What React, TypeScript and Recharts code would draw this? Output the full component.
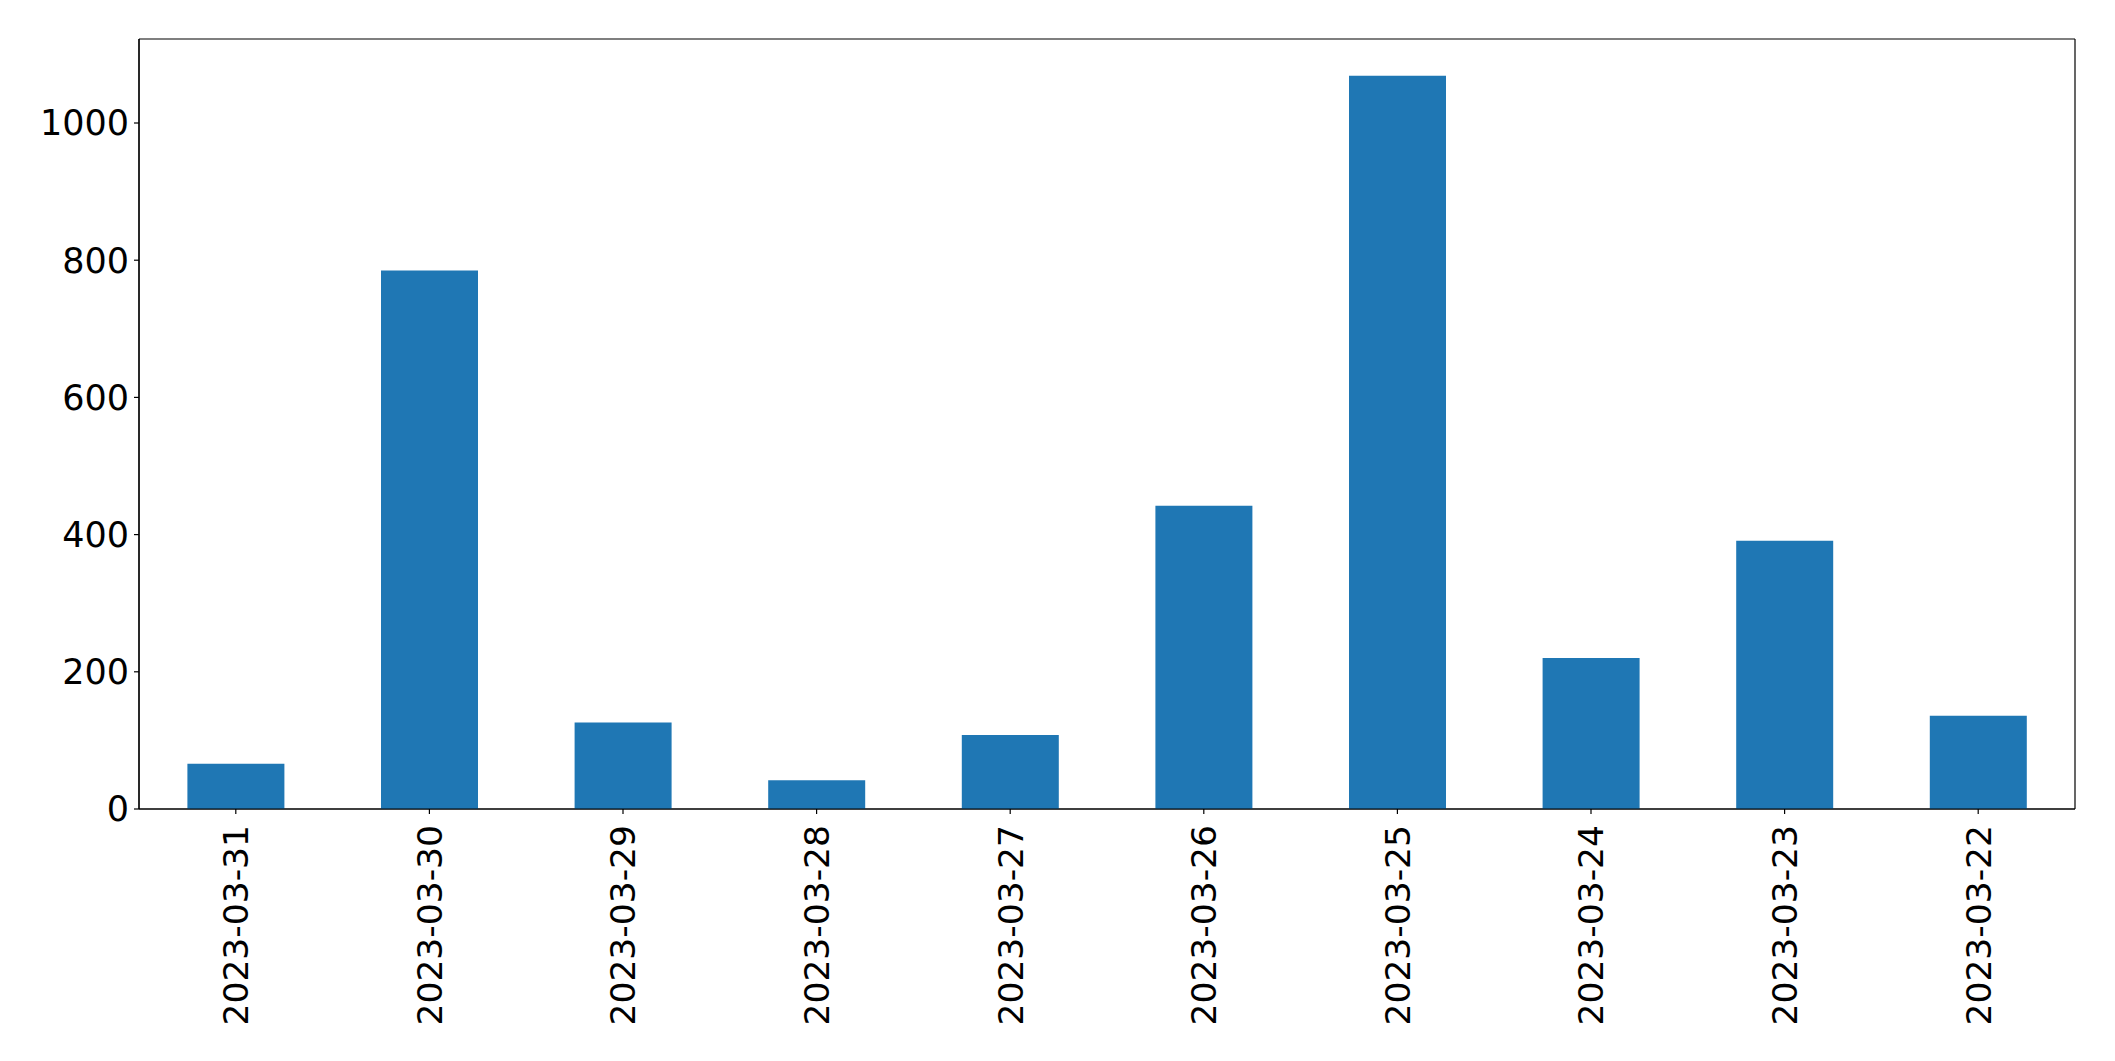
import { BarChart, Bar, XAxis, YAxis, CartesianGrid } from "recharts";

const dates = [
  "2023-03-31",
  "2023-03-30",
  "2023-03-29",
  "2023-03-28",
  "2023-03-27",
  "2023-03-26",
  "2023-03-25",
  "2023-03-24",
  "2023-03-23",
  "2023-03-22",
];
const counts = [66, 785, 126, 42, 108, 442, 1069, 220, 391, 136];
const yTicks = [0, 200, 400, 600, 800, 1000];

const data = dates.map((d, i) => ({ date: d, count: counts[i] }));

const FONT = "'DejaVu Sans', sans-serif";
const spine = { stroke: "#000", strokeWidth: 1.2 };

function DateTick(props: any) {
  const { x, y, payload } = props;
  const ty = y + 9;
  return (
    <text
      x={x}
      y={ty}
      transform={`rotate(-90, ${x}, ${ty})`}
      textAnchor="end"
      dy="0.36em"
      fontSize={34.5}
      fontFamily={FONT}
      fill="#000"
    >
      {payload.value}
    </text>
  );
}

// frame lines on the plot-area edges (matplotlib spines)
const frameX = ({ offset }: any) => [offset.left, offset.left + offset.width];
const frameY = ({ offset }: any) => [offset.top, offset.top + offset.height];

export default function App() {
  return (
    <div style={{ position: "absolute", left: 0, top: 0, background: "#fff" }}>
      <BarChart
        width={2115}
        height={1061}
        data={data}
        margin={{ top: 39, right: 40, left: 0, bottom: 0 }}
        barCategoryGap="25%"
      >
        <CartesianGrid
          stroke="#000"
          strokeWidth={1.2}
          verticalCoordinatesGenerator={frameX}
          horizontalCoordinatesGenerator={frameY}
        />
        <XAxis
          dataKey="date"
          height={252}
          tickSize={5}
          tick={<DateTick />}
          interval={0}
          axisLine={spine}
          tickLine={spine}
        />
        <YAxis
          width={139}
          domain={[0, (max: number) => max * 1.05]}
          ticks={yTicks}
          tickSize={5}
          tickMargin={5}
          interval={0}
          tick={{ fontSize: 35, fontFamily: FONT, fill: "#000" }}
          axisLine={spine}
          tickLine={spine}
        />
        <Bar dataKey="count" fill="#1f77b4" isAnimationActive={false} />
      </BarChart>
    </div>
  );
}
